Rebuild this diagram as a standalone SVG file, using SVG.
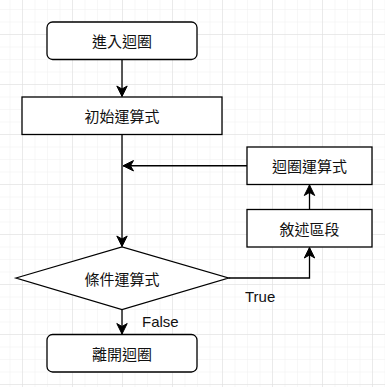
<svg xmlns="http://www.w3.org/2000/svg" width="385" height="387" viewBox="0 0 385 387">
  <defs>
    <pattern id="minor" x="9.5" y="9" width="12.5" height="12.5" patternUnits="userSpaceOnUse">
      <path d="M 0 0 L 12.5 0 M 0 0 L 0 12.5" fill="none" stroke="#efefef" stroke-width="1"/>
    </pattern>
    <pattern id="major" x="22" y="34" width="50" height="50" patternUnits="userSpaceOnUse">
      <path d="M 0 0 L 50 0 M 0 0 L 0 50" fill="none" stroke="#dedede" stroke-width="1"/>
    </pattern>
    <marker id="arrow" markerUnits="userSpaceOnUse" markerWidth="14" markerHeight="14" viewBox="-12 -7 14 14" refX="0" refY="0" orient="auto">
      <path d="M 0 0 L -10.5 -5.2 L -7.5 0 L -10.5 5.2 Z" fill="#000" stroke="#000" stroke-width="1"/>
    </marker>
  </defs>
  <style>
    .box { fill: #ffffff; stroke: #000000; stroke-width: 1.3; }
    .edge { fill: none; stroke: #000000; stroke-width: 1.3; marker-end: url(#arrow); }
    .label { font-family: "Noto Sans CJK TC", "Noto Sans CJK SC", sans-serif; font-size: 15px; fill: #111; text-anchor: middle; dominant-baseline: central; }
    .elabel { font-family: "Liberation Sans", Arial, sans-serif; font-size: 15px; fill: #111; }
  </style>
  <rect width="385" height="387" fill="#ffffff"/>
  <rect width="385" height="387" fill="url(#minor)"/>
  <rect width="385" height="387" fill="url(#major)"/>

  <g id="connectors">
    <path class="edge" d="M 122 59.5 L 122 96.5"/>
    <path class="edge" d="M 122 134.5 L 122 246.5"/>
    <path class="edge" d="M 122 309.5 L 122 334"/>
    <path class="edge" d="M 228.5 278 L 309.5 278 L 309.5 247.5"/>
    <path class="edge" d="M 309.5 209.5 L 309.5 185"/>
    <path class="edge" d="M 247 165.75 L 123 165.75"/>
    <text class="elabel" x="245" y="301.5">True</text>
    <text class="elabel" x="142" y="326.5">False</text>
  </g>

  <g id="start">
    <rect class="box" x="47" y="22" width="150" height="37.5" rx="5.6" ry="5.6"/>
    <text class="label" x="122" y="40.75">進入迴圈</text>
  </g>
  <g id="init">
    <rect class="box" x="22" y="97" width="200" height="37.5"/>
    <text class="label" x="122" y="115.75">初始運算式</text>
  </g>
  <g id="update">
    <rect class="box" x="247" y="147" width="125" height="37.5"/>
    <text class="label" x="309.5" y="165.75">迴圈運算式</text>
  </g>
  <g id="body">
    <rect class="box" x="247" y="209.5" width="125" height="37.5"/>
    <text class="label" x="309.5" y="228.25">敘述區段</text>
  </g>
  <g id="condition">
    <polygon class="box" points="16,278 122,247 228.5,278 122,309.5"/>
    <text class="label" x="122" y="278.25">條件運算式</text>
  </g>
  <g id="end">
    <rect class="box" x="47" y="334.5" width="150" height="37.5" rx="5.6" ry="5.6"/>
    <text class="label" x="122" y="353.25">離開迴圈</text>
  </g>
</svg>
